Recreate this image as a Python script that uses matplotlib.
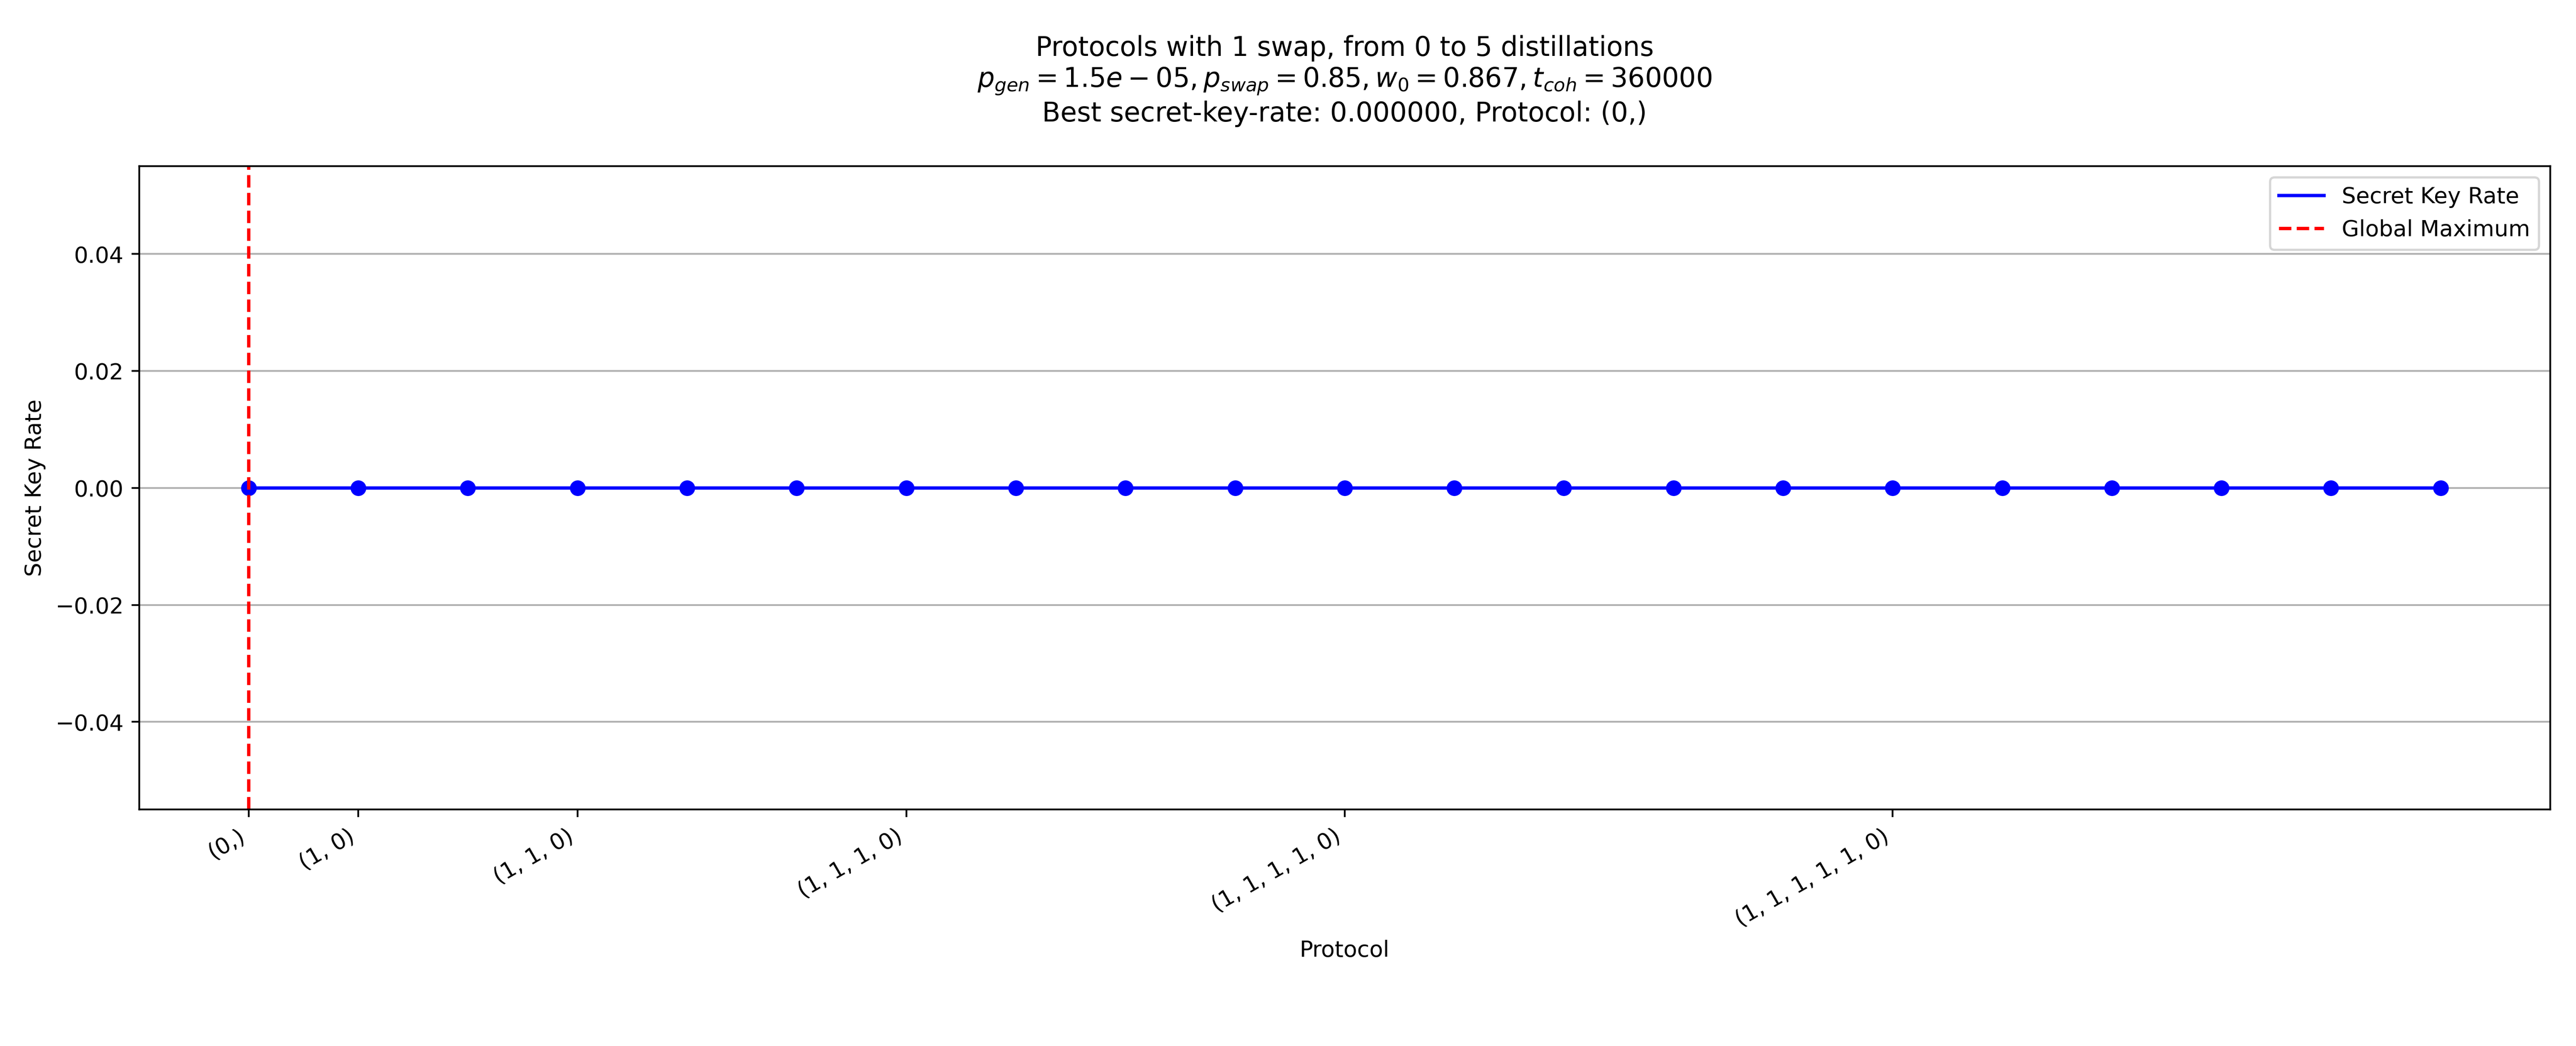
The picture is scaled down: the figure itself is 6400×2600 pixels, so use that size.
#!/usr/bin/env python3
import matplotlib
matplotlib.use("Agg")
import matplotlib.pyplot as plt

# Protocols with 1 swap (the 0) and 0..5 distillations (the 1s)
protocols = [
    (0,),
    (1, 0), (0, 1),
    (1, 1, 0), (1, 0, 1), (0, 1, 1),
    (1, 1, 1, 0), (1, 1, 0, 1), (1, 0, 1, 1), (0, 1, 1, 1),
    (1, 1, 1, 1, 0), (1, 1, 1, 0, 1), (1, 1, 0, 1, 1), (1, 0, 1, 1, 1), (0, 1, 1, 1, 1),
    (1, 1, 1, 1, 1, 0), (1, 1, 1, 1, 0, 1), (1, 1, 1, 0, 1, 1), (1, 1, 0, 1, 1, 1),
    (1, 0, 1, 1, 1, 1), (0, 1, 1, 1, 1, 1),
]
skr_values = [0.0] * len(protocols)

p_gen = 1.5e-05
p_swap = 0.85
w0 = 0.867
t_coh = 360000

best_idx = max(range(len(skr_values)), key=lambda i: skr_values[i])
best_skr = skr_values[best_idx]
best_protocol = protocols[best_idx]

# label only the first protocol of each length
tick_pos = [i for i, p in enumerate(protocols) if i == 0 or len(p) != len(protocols[i - 1])]
tick_labels = [str(protocols[i]) for i in tick_pos]

fig, ax = plt.subplots(figsize=(16, 6.5), dpi=400)
x = list(range(len(protocols)))
ax.plot(x, skr_values, "-", color="blue", label="Secret Key Rate")
ax.plot(x, skr_values, "o", color="blue")
ax.axvline(x=best_idx, color="red", linestyle="--", label="Global Maximum")

ax.set_title(
    "Protocols with 1 swap, from 0 to 5 distillations\n"
    + rf"$p_{{gen}} = {p_gen}, p_{{swap}} = {p_swap}, w_0 = {w0}, t_{{coh}} = {t_coh}$" + "\n"
    + f"Best secret-key-rate: {best_skr:.6f}, Protocol: {best_protocol}",
    pad=20,
)
ax.set_xlabel("Protocol")
ax.set_ylabel("Secret Key Rate")
ax.set_xticks(tick_pos)
ax.set_xticklabels(tick_labels, rotation=30, ha="right")
ax.grid(axis="y")
ax.legend(loc="upper right")

plt.subplots_adjust(left=0.054, right=0.99, top=0.841, bottom=0.226)
plt.savefig("out.png")
plt.close()
